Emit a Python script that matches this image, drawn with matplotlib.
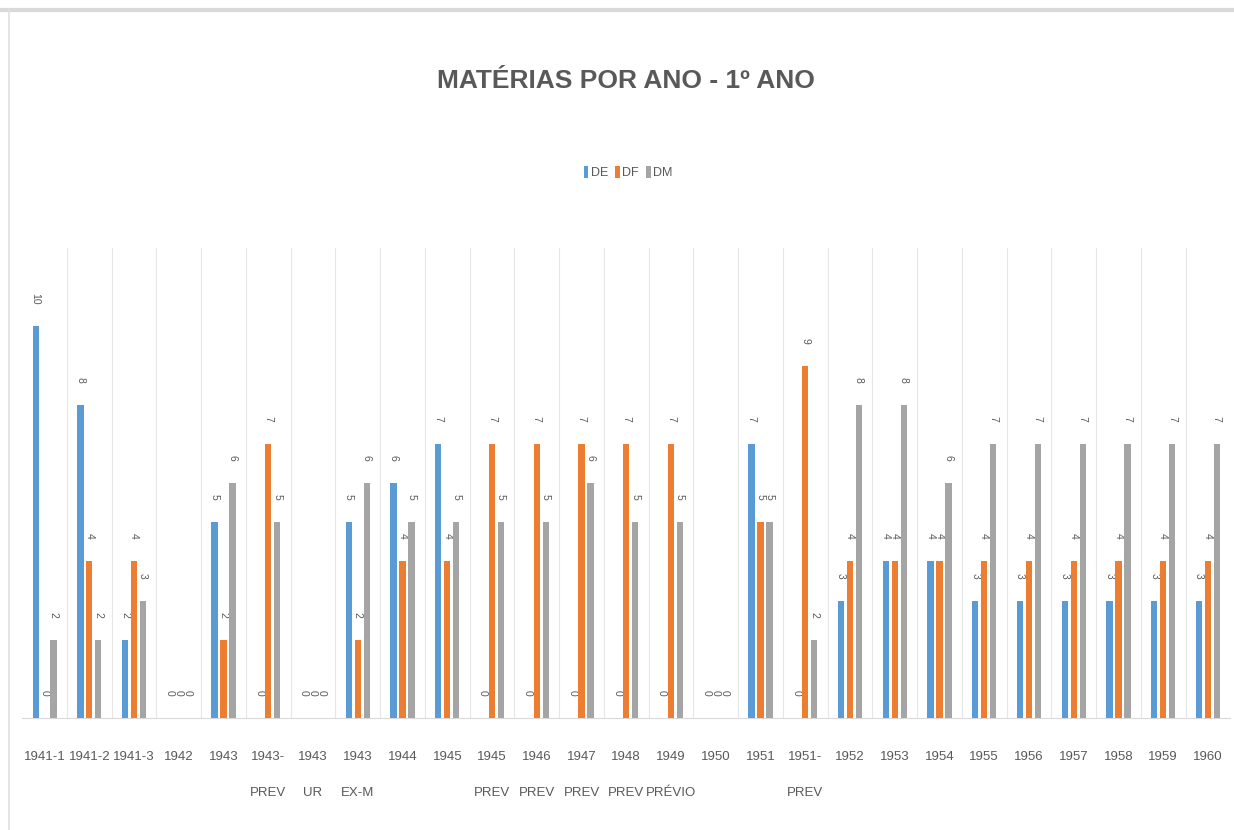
import numpy as np
import matplotlib
matplotlib.use('Agg')
import matplotlib.pyplot as plt

# Dados do gráfico
anos = ['1941-1', '1941-2', '1941-3', '1942', '1943', '1943-\nPREV', '1943\nUR',
        '1943\nEX-M', '1944', '1945', '1945\nPREV', '1946\nPREV', '1947\nPREV',
        '1948\nPREV', '1949\nPRÉVIO', '1950', '1951', '1951-\nPREV', '1952', '1953',
        '1954', '1955', '1956', '1957', '1958', '1959', '1960']
de = [10, 8, 2, 0, 5, 0, 0, 5, 6, 7, 0, 0, 0, 0, 0, 0, 7, 0, 3, 4, 4, 3, 3, 3, 3, 3, 3]
df_ = [0, 4, 4, 0, 2, 7, 0, 2, 4, 4, 7, 7, 7, 7, 7, 0, 5, 9, 4, 4, 4, 4, 4, 4, 4, 4, 4]
dm = [2, 2, 3, 0, 6, 5, 0, 6, 5, 5, 5, 5, 6, 5, 5, 0, 5, 2, 8, 8, 6, 7, 7, 7, 7, 7, 7]

series = [('DE', de, '#5b9bd5'), ('DF', df_, '#ed7d31'), ('DM', dm, '#a5a5a5')]

plt.rcParams['font.family'] = ['Liberation Sans', 'DejaVu Sans']
cinza = '#595959'

fig = plt.figure(figsize=(12.34, 8.3), dpi=100)
ax = fig.add_axes([0.018, 0.135, 0.979, 0.566])

x = np.arange(len(anos))
for i, (nome, vals, cor) in enumerate(series):
    pos = x + (i - 1) * 0.2
    ax.bar(pos, vals, width=0.14, color=cor, label=nome, zorder=3)
    for p, v in zip(pos, vals):
        ax.annotate(str(v), (p, v), xytext=(0, 16), textcoords='offset points',
                    rotation=270, ha='center', va='bottom', fontsize=7.5, color=cinza)

ax.set_xlim(-0.5, len(anos) - 0.5)
ax.set_ylim(0, 12)
ax.set_xticks(x)
ax.set_xticklabels(anos, fontsize=9.5, color=cinza, linespacing=3.6, va='top')
ax.set_xticks(x[:-1] + 0.5, minor=True)
ax.tick_params(axis='x', which='both', length=0, pad=24)
ax.set_yticks([])
ax.grid(axis='x', which='minor', color='#e6e6e6', linewidth=0.8, zorder=0)
for lado in ['top', 'right', 'left']:
    ax.spines[lado].set_visible(False)
ax.spines['bottom'].set_color('#d9d9d9')

fig.text(0.507, 0.902, 'MATÉRIAS POR ANO - 1º ANO', ha='center', va='center',
         fontsize=19, fontweight='bold', color=cinza)
fig.legend(loc='center', bbox_to_anchor=(0.509, 0.792), ncol=3, frameon=False,
           fontsize=9, handlelength=0.35, handleheight=1.1, handletextpad=0.2,
           columnspacing=0.6, labelcolor=cinza)

# moldura do gráfico
fig.add_artist(plt.Line2D([0.0, 1.0], [0.988, 0.988], color='#d9d9d9', linewidth=3))
fig.add_artist(plt.Line2D([0.007, 0.007], [0.0, 0.988], color='#e0e0e0', linewidth=1.2))

fig.savefig('out.png', dpi=100)
